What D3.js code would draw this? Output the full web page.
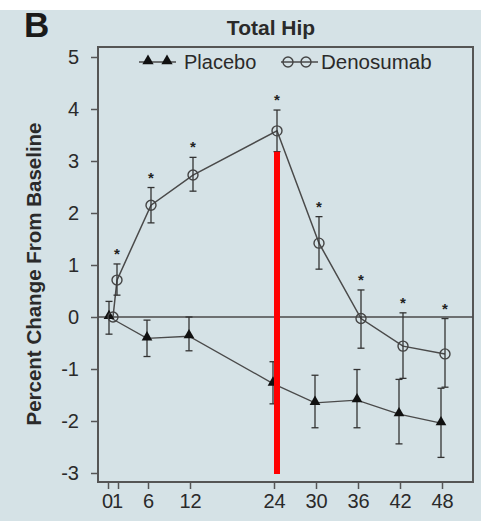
<!DOCTYPE html>
<html>
<head>
<meta charset="utf-8">
<script src="https://cdn.jsdelivr.net/npm/d3@7"></script>
<style>
  body { margin: 0; background: #ffffff; }
  svg { display: block; }
</style>
</head>
<body>
<svg id="chart" width="481" height="521"></svg>
<script>
// Study visits (months) shown on the x axis
const months = [0, 1, 6, 12, 24, 30, 36, 42, 48];
const monthLabels = ["0", "1", "6", "12", "24", "30", "36", "42", "48"];

// Placebo: mean percent change and error-bar limits
const placeboMonths = [0, 6, 12, 24, 30, 36, 42, 48];
const placeboMean = [0, -0.41, -0.37, -1.28, -1.65, -1.6, -1.87, -2.04];
const placeboLow  = [-0.33, -0.76, -0.65, -1.67, -2.13, -2.13, -2.44, -2.7];
const placeboHigh = [0.3, -0.06, 0.0, -0.86, -1.12, -1.01, -1.2, -1.37];

// Denosumab: mean percent change, error-bar limits, significance flags
const denoMonths = [0, 1, 6, 12, 24, 30, 36, 42, 48];
const denoMean = [0, 0.71, 2.15, 2.73, 3.58, 1.42, -0.03, -0.56, -0.71];
const denoLow  = [null, 0.42, 1.81, 2.42, 3.18, 0.92, -0.6, -1.18, -1.35];
const denoHigh = [null, 1.02, 2.49, 3.07, 3.98, 1.93, 0.52, 0.08, -0.03];
const denoStar = [false, true, true, true, true, true, true, true, true];

const yTicks = [-3, -2, -1, 0, 1, 2, 3, 4, 5];
const yTickLabels = ["-3", "-2", "-1", "0", "1", "2", "3", "4", "5"];

// Red vertical marker at month 24 (end of treatment)
const markerMonth = 24;
const markerRange = [-3.02, 3.18];

const svg = d3.select("#chart");
const W = 481, H = 521;
const frame = { left: 98, right: 473, top: 47, bottom: 482 };

const ink = "#2a2a2a";
const lineInk = "#4a4a4a";
const font = "'Liberation Sans', Arial, Helvetica, sans-serif";

// Background panel
svg.append("rect").attr("width", W).attr("height", H).attr("fill", "#ffffff");
svg.append("rect").attr("x", 0).attr("y", 10).attr("width", W).attr("height", H - 10)
  .attr("fill", "#d5e2e6");

// Scales (the first two visits sit close together)
const x = d3.scaleLinear().domain([0, 1, 6, 48]).range([110, 114, 148, 442]);
const y = d3.scaleLinear().domain([-3, 5]).range([473, 57]);
const dodge = { placebo: -1, deno: 3 };

// Plot frame
svg.append("rect")
  .attr("x", frame.left).attr("y", frame.top)
  .attr("width", frame.right - frame.left).attr("height", frame.bottom - frame.top)
  .attr("fill", "none").attr("stroke", "#555").attr("stroke-width", 2);

// Y axis
const yAxis = svg.append("g")
  .attr("transform", `translate(${frame.left - 1},0)`)
  .call(d3.axisLeft(y).tickValues(yTicks).tickFormat((d, i) => yTickLabels[i]).tickSize(6).tickPadding(12));
yAxis.select(".domain").remove();
yAxis.selectAll("line").attr("stroke", "#555").attr("stroke-width", 1.5);
yAxis.selectAll("text").attr("fill", ink).style("font-family", font).style("font-size", "20px");

// X axis
const xAxis = svg.append("g")
  .attr("transform", `translate(0,${frame.bottom})`)
  .call(d3.axisBottom(x).tickValues(months).tickFormat((d, i) => monthLabels[i]).tickSize(7).tickPadding(5));
xAxis.select(".domain").remove();
xAxis.selectAll("line").attr("stroke", "#555").attr("stroke-width", 1.5);
xAxis.selectAll("text").attr("fill", ink).style("font-family", font).style("font-size", "20px")
  .attr("dx", d => d === 0 ? -3 : d === 1 ? 3 : 0);
xAxis.selectAll(".tick").filter(d => d === 0 || d === 1).select("line")
  .attr("x1", d => d === 0 ? -2 : 4).attr("x2", d => d === 0 ? -2 : 4);

// Zero reference line
svg.append("line")
  .attr("x1", frame.left).attr("x2", frame.right)
  .attr("y1", y(0)).attr("y2", y(0))
  .attr("stroke", "#4a4a4a").attr("stroke-width", 1.3);

// Build point records
const placebo = placeboMonths.map((m, i) => ({
  m, v: placeboMean[i], lo: placeboLow[i], hi: placeboHigh[i]
}));
const deno = denoMonths.map((m, i) => ({
  m, v: denoMean[i], lo: denoLow[i], hi: denoHigh[i], star: denoStar[i]
}));

const line = off => d3.line().x(d => x(d.m) + off).y(d => y(d.v));

// Series lines
svg.append("path").datum(placebo).attr("d", line(dodge.placebo))
  .attr("fill", "none").attr("stroke", lineInk).attr("stroke-width", 1.3);
svg.append("path").datum(deno).attr("d", line(dodge.deno))
  .attr("fill", "none").attr("stroke", lineInk).attr("stroke-width", 1.5);

// Error bars
function errorBars(data, off) {
  const g = svg.append("g").attr("stroke", "#333").attr("stroke-width", 1.3);
  const withErr = data.filter(d => d.lo != null);
  g.selectAll("line.v").data(withErr).join("line")
    .attr("x1", d => x(d.m) + off).attr("x2", d => x(d.m) + off)
    .attr("y1", d => y(d.lo)).attr("y2", d => y(d.hi));
  g.selectAll("line.lo").data(withErr).join("line")
    .attr("x1", d => x(d.m) + off - 3.5).attr("x2", d => x(d.m) + off + 3.5)
    .attr("y1", d => y(d.lo)).attr("y2", d => y(d.lo));
  g.selectAll("line.hi").data(withErr).join("line")
    .attr("x1", d => x(d.m) + off - 3.5).attr("x2", d => x(d.m) + off + 3.5)
    .attr("y1", d => y(d.hi)).attr("y2", d => y(d.hi));
}
errorBars(placebo, dodge.placebo);
errorBars(deno, dodge.deno);

// Markers
const tri = d3.symbol().type(d3.symbolTriangle).size(50);
svg.append("g").selectAll("path").data(placebo).join("path")
  .attr("d", tri)
  .attr("transform", d => `translate(${x(d.m) + dodge.placebo},${y(d.v) - 1})`)
  .attr("fill", "#111");
svg.append("g").selectAll("circle").data(deno).join("circle")
  .attr("cx", d => x(d.m) + dodge.deno).attr("cy", d => y(d.v)).attr("r", 5)
  .attr("fill", "none").attr("stroke", "#444").attr("stroke-width", 1.4);

// Significance asterisks above the denosumab error bars
svg.append("g").selectAll("text").data(deno.filter(d => d.star)).join("text")
  .attr("x", d => x(d.m) + dodge.deno).attr("y", d => y(d.hi) - 5)
  .attr("text-anchor", "middle")
  .attr("fill", "#222").style("font-family", font).style("font-size", "15px").style("font-weight", "bold")
  .text("*");

// Red marker line
svg.append("line")
  .attr("x1", x(markerMonth) + dodge.deno).attr("x2", x(markerMonth) + dodge.deno)
  .attr("y1", y(markerRange[1])).attr("y2", y(markerRange[0]))
  .attr("stroke", "#ff0000").attr("stroke-width", 6);

// Legend
const leg = svg.append("g");
leg.append("line").attr("x1", 139).attr("x2", 176).attr("y1", 62).attr("y2", 62)
  .attr("stroke", lineInk).attr("stroke-width", 1.3);
leg.selectAll("path").data([148, 167]).join("path")
  .attr("d", d3.symbol().type(d3.symbolTriangle).size(55))
  .attr("transform", d => `translate(${d},61)`).attr("fill", "#111");
leg.append("text").attr("x", 184).attr("y", 69)
  .attr("fill", ink).style("font-family", font).style("font-size", "20px").text("Placebo");
leg.append("line").attr("x1", 281).attr("x2", 318).attr("y1", 62).attr("y2", 62)
  .attr("stroke", lineInk).attr("stroke-width", 1.3);
leg.selectAll("circle").data([288, 306]).join("circle")
  .attr("cx", d => d).attr("cy", 62).attr("r", 5)
  .attr("fill", "none").attr("stroke", "#444").attr("stroke-width", 1.4);
leg.append("text").attr("x", 321).attr("y", 69)
  .attr("fill", ink).style("font-family", font).style("font-size", "20.5px").text("Denosumab");

// Titles
svg.append("text").attr("x", 271).attr("y", 35).attr("text-anchor", "middle")
  .attr("fill", ink).style("font-family", font).style("font-size", "21px").style("font-weight", "bold")
  .text("Total Hip");
svg.append("text").attr("x", 24).attr("y", 37)
  .attr("fill", "#1a1a1a").style("font-family", font).style("font-size", "35px").style("font-weight", "bold")
  .text("B");
svg.append("text")
  .attr("transform", `translate(41,274) rotate(-90)`)
  .attr("text-anchor", "middle")
  .attr("fill", ink).style("font-family", font).style("font-size", "20.5px").style("font-weight", "bold")
  .text("Percent Change From Baseline");
</script>
</body>
</html>
